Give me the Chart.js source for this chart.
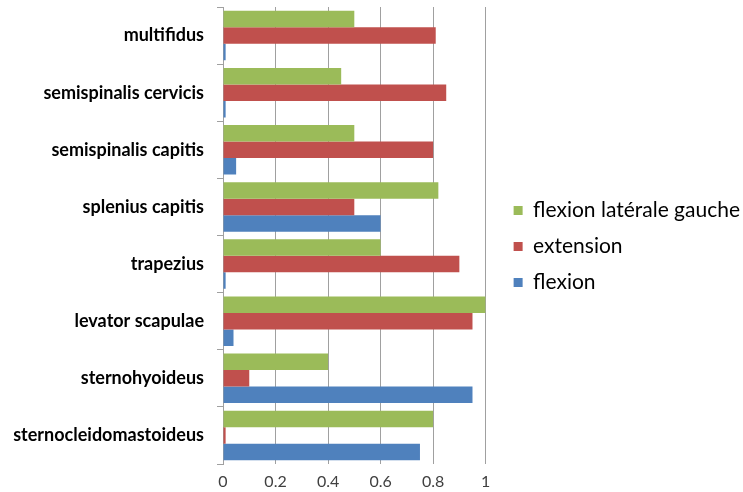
<!DOCTYPE html>
<html>
<head>
<meta charset="utf-8">
<script src="https://cdn.jsdelivr.net/npm/chart.js@4/dist/chart.umd.min.js"></script>
<style>
  html, body { margin: 0; padding: 0; background: #fff; }
  #wrap { width: 743px; height: 492px; }
</style>
</head>
<body>
<div id="wrap"><canvas id="muscleChart"></canvas></div>
<script>
// muscles, top to bottom
var muscles = ["multifidus", "semispinalis cervicis", "semispinalis capitis", "splenius capitis",
  "trapezius", "levator scapulae", "sternohyoideus", "sternocleidomastoideus"];

// values per movement
var flexionLaterale = [0.50, 0.45, 0.50, 0.82, 0.60, 1.00, 0.40, 0.80];
var extension = [0.81, 0.85, 0.80, 0.50, 0.90, 0.95, 0.10, 0.01];
var flexion = [0.01, 0.01, 0.05, 0.60, 0.01, 0.04, 0.95, 0.75];

var xTicks = [0, 0.2, 0.4, 0.6, 0.8, 1];

new Chart(document.getElementById("muscleChart"), {
  type: "bar",
  data: {
    labels: muscles,
    datasets: [{
      label: "flexion latérale gauche",
      data: flexionLaterale,
      backgroundColor: "#9BBB59"
    },
    {
      label: "extension",
      data: extension,
      backgroundColor: "#C0504D"
    },
    {
      label: "flexion",
      data: flexion,
      backgroundColor: "#4F81BD"
    }]
  },
  options: {
    indexAxis: "y",
    responsive: true,
    maintainAspectRatio: false,
    animation: false,
    layout: { padding: { top: 1, right: -7, bottom: 0, left: 0 } },
    datasets: {
      bar: { categoryPercentage: 0.865, barPercentage: 1 }
    },
    plugins: {
      tooltip: { enabled: false },
      legend: {
        position: "right",
        maxWidth: 300,
        labels: {
          boxWidth: 9,
          boxHeight: 9,
          padding: 15,
          color: "#000",
          font: { family: "Lato", size: 21 }
        }
      }
    },
    scales: {
      x: {
        min: 0,
        max: 1,
        afterBuildTicks: function (scale) {
          scale.ticks = xTicks.map(function (v) { return { value: v }; });
        },
        afterFit: function (scale) { scale.height = 28; },
        border: { display: false },
        grid: { color: "#a0a0a0", drawTicks: false },
        ticks: {
          padding: 8,
          color: "#404040",
          font: { family: "Lato", size: 16 },
          callback: function (v) { return String(v); }
        }
      },
      // empty spacer above the plot
      top: {
        axis: "x",
        position: "top",
        afterFit: function (scale) { scale.height = 6; },
        border: { display: false },
        grid: { display: false },
        ticks: { display: false }
      },
      y: {
        afterFit: function (scale) {
          scale.width = 223;
          scale.paddingTop = 0;
          scale.paddingBottom = 0;
        },
        border: { display: true, color: "#a0a0a0" },
        grid: { drawOnChartArea: false, drawTicks: true, tickLength: 6, color: "#a0a0a0", offset: true },
        ticks: {
          padding: 13,
          color: "#000",
          font: { family: "Lato", size: 18, weight: "bold" }
        }
      },
      // empty spacer between plot and legend
      gap: {
        axis: "y",
        position: "right",
        afterFit: function (scale) {
          scale.width = 13;
          scale.paddingTop = 0;
          scale.paddingBottom = 0;
        },
        border: { display: false },
        grid: { display: false },
        ticks: { display: false }
      }
    }
  }
});
</script>
</body>
</html>
